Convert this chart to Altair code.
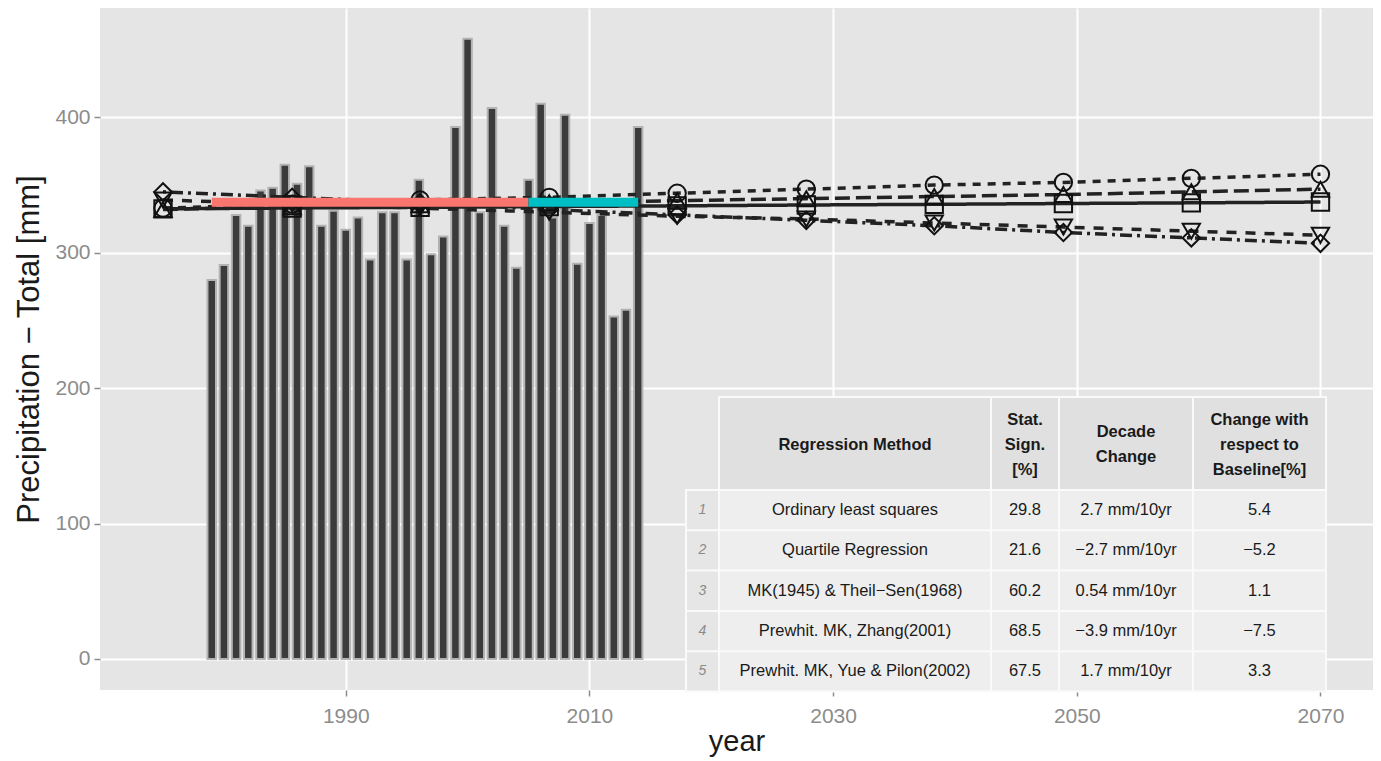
import altair as alt
import pandas as pd

# ---------------- data ----------------
years = list(range(1979, 2015))
precip = [280, 291, 328, 320, 346, 348, 365, 351, 364, 320,
          331, 317, 326, 295, 330, 330, 295, 354, 299, 312,
          393, 458, 330, 407, 320, 289, 354, 410, 326, 402,
          292, 322, 328, 253, 258, 393]

marker_years = [1975, 1985.6, 1996.1, 2006.7, 2017.2, 2027.8, 2038.3, 2048.9, 2059.4, 2070]
methods = ["OLS", "Quartile", "TheilSen", "Zhang", "YuePilon"]
trend_ols = [333, 336, 339, 341, 344, 347, 350, 352, 355, 358]
trend_quartile = [339, 336, 333, 330, 327, 325, 322, 319, 316, 313]
trend_theilsen = [332.5, 333.1, 333.6, 334.2, 334.7, 335.3, 335.8, 336.4, 336.9, 337.5]
trend_zhang = [345, 341, 337, 332, 328, 324, 320, 315, 311, 307]
trend_yue = [332, 334, 335.5, 337, 338.5, 340, 341.5, 343, 345, 347]

periods = ["baseline", "recent"]
period_start = [1979, 2005]
period_end = [2005, 2014]
period_value = [337.3, 337.3]

table_header = ["Regression Method", "Stat.\nSign.\n[%]", "Decade\nChange",
                "Change with\nrespect to\nBaseline[%]"]
table_rows = ["1", "2", "3", "4", "5"]
table_method = ["Ordinary least squares", "Quartile Regression",
                "MK(1945) & Theil\u2212Sen(1968)", "Prewhit. MK, Zhang(2001)",
                "Prewhit. MK, Yue & Pilon(2002)"]
table_stat = ["29.8", "21.6", "60.2", "68.5", "67.5"]
table_decade = ["2.7 mm/10yr", "\u22122.7 mm/10yr", "0.54 mm/10yr",
                "\u22123.9 mm/10yr", "1.7 mm/10yr"]
table_change = ["5.4", "\u22125.2", "1.1", "\u22127.5", "3.3"]

# ---------------- frames ----------------
bar_df = pd.DataFrame({"year": years, "precip": precip})
series = [trend_ols, trend_quartile, trend_theilsen, trend_zhang, trend_yue]
trend_df = pd.concat([
    pd.DataFrame({"year": marker_years, "value": vals, "method": m})
    for m, vals in zip(methods, series)
], ignore_index=True)
seg_df = pd.DataFrame({"period": periods, "start": period_start,
                       "end": period_end, "value": period_value})

# table layout (pixels inside plot area)
col_edges = [(587, 618), (620, 890), (892, 958), (960, 1092), (1094, 1225)]
head_top, head_bot = 390, 481
row_top0, row_step, row_h = 483, 40.3, 38.3
LINE_H = 25

cells = [
    {"x0": 618, "x1": 1227, "y0": head_top - 2, "y1": head_bot + 2, "fill": "#fafafa"},
    {"x0": 585, "x1": 1227, "y0": row_top0 - 2, "y1": row_top0 + 4 * row_step + row_h + 2,
     "fill": "#fafafa"},
]
for ci, (a, b) in enumerate(col_edges[1:]):
    cells.append({"x0": a, "x1": b, "y0": head_top, "y1": head_bot, "fill": "#e0e0e0"})
for ri in range(5):
    t = row_top0 + ri * row_step
    for ci, (a, b) in enumerate(col_edges):
        cells.append({"x0": a, "x1": b, "y0": t, "y1": t + row_h,
                      "fill": "#e6e6e6" if ci == 0 else "#eeeeee"})
cell_df = pd.DataFrame(cells)

def cx(ci):
    a, b = col_edges[ci]
    return (a + b) / 2

head_center = (head_top + head_bot) / 2 + 1
head_df = pd.DataFrame({
    "x": [cx(i) for i in range(1, 5)],
    "y": [head_center - (h.count("\n")) * LINE_H / 2 for h in table_header],
    "text": table_header})
body = []
for ri in range(5):
    yc = row_top0 + ri * row_step + row_h / 2
    for ci, col in enumerate([table_method, table_stat, table_decade, table_change]):
        body.append({"x": cx(ci + 1), "y": yc, "text": col[ri]})
body_df = pd.DataFrame(body)
rowname_df = pd.DataFrame({"x": [cx(0)] * 5,
                           "y": [row_top0 + ri * row_step + row_h / 2 for ri in range(5)],
                           "text": table_rows})

# ---------------- chart ----------------
FONT = "Liberation Sans"
xscale = alt.Scale(domain=[1970.24, 2073.9], nice=False, zero=False)
yscale = alt.Scale(domain=[-22.9, 480.8], nice=False, zero=False)

bars = alt.Chart(bar_df).mark_bar(width=8.5, fill="#3b3b3b", stroke="#b3b3b3",
                                  strokeWidth=2).encode(
    x=alt.X("year:Q", scale=xscale, title="year",
            axis=alt.Axis(values=[1990, 2010, 2030, 2050, 2070], format="d",
                          labelPadding=9, titlePadding=1, titleFontSize=29)),
    y=alt.Y("precip:Q", scale=yscale, title="Precipitation \u2212 Total [mm]",
            axis=alt.Axis(values=[0, 100, 200, 300, 400], titlePadding=9,
                          titleFontSize=31)),
)

lines = alt.Chart(trend_df).mark_line(strokeWidth=3.5, color="#222222").encode(
    x="year:Q", y="value:Q", detail="method:N",
    strokeDash=alt.StrokeDash("method:N", legend=None, scale=alt.Scale(
        domain=methods,
        range=[[8, 7], [10, 9], [1, 0], [3, 5, 12, 5], [15, 6]])),
)

points = alt.Chart(trend_df).mark_point(size=300, strokeWidth=2, color="#111111",
                                        filled=False, opacity=1).encode(
    x="year:Q", y="value:Q",
    shape=alt.Shape("method:N", legend=None, scale=alt.Scale(
        domain=methods,
        range=["circle", "triangle-down", "square", "diamond", "triangle-up"])),
)

segs = alt.Chart(seg_df).mark_rule(strokeWidth=9, strokeCap="butt").encode(
    x="start:Q", x2="end:Q", y="value:Q",
    color=alt.Color("period:N", legend=None,
                    scale=alt.Scale(domain=periods, range=["#F8766D", "#00BFC4"])),
)

table_cells = alt.Chart(cell_df).mark_rect().encode(
    x=alt.X("x0:Q", scale=None, axis=None), x2="x1:Q",
    y=alt.Y("y0:Q", scale=None, axis=None), y2="y1:Q",
    color=alt.Color("fill:N", scale=None),
)

head_text = alt.Chart(head_df).mark_text(font=FONT, fontSize=16.5, fontWeight="bold",
                                         color="#1a1a1a", lineBreak="\n", lineHeight=LINE_H,
                                         align="center", baseline="middle").encode(
    x=alt.X("x:Q", scale=None, axis=None), y=alt.Y("y:Q", scale=None, axis=None),
    text="text:N")

body_text = alt.Chart(body_df).mark_text(font=FONT, fontSize=16.5, color="#1a1a1a",
                                         align="center", baseline="middle").encode(
    x=alt.X("x:Q", scale=None, axis=None), y=alt.Y("y:Q", scale=None, axis=None),
    text="text:N")

rowname_text = alt.Chart(rowname_df).mark_text(font=FONT, fontSize=14, fontStyle="italic",
                                               color="#8a8a8a", align="center",
                                               baseline="middle").encode(
    x=alt.X("x:Q", scale=None, axis=None), y=alt.Y("y:Q", scale=None, axis=None),
    text="text:N")

chart = alt.layer(bars, lines, points, segs, table_cells, head_text, body_text,
                  rowname_text).properties(
    width=1273, height=682,
    autosize=alt.AutoSizeParams(type="none"),
    padding={"left": 92, "top": 0, "right": 0, "bottom": 70},
).configure_view(
    fill="#E5E5E5", stroke=None
).configure_axis(
    grid=True, gridColor="#FFFFFF", gridWidth=2, domain=False,
    tickColor="#8c8c8c", tickWidth=1.5, tickSize=6,
    labelFont=FONT, labelFontSize=21, labelColor="#8c8c8c", labelPadding=4,
    titleFont=FONT, titleFontWeight="normal", titleColor="#1a1a1a",
)

chart.save("out.html", embed_options={"renderer": "svg", "actions": False})
